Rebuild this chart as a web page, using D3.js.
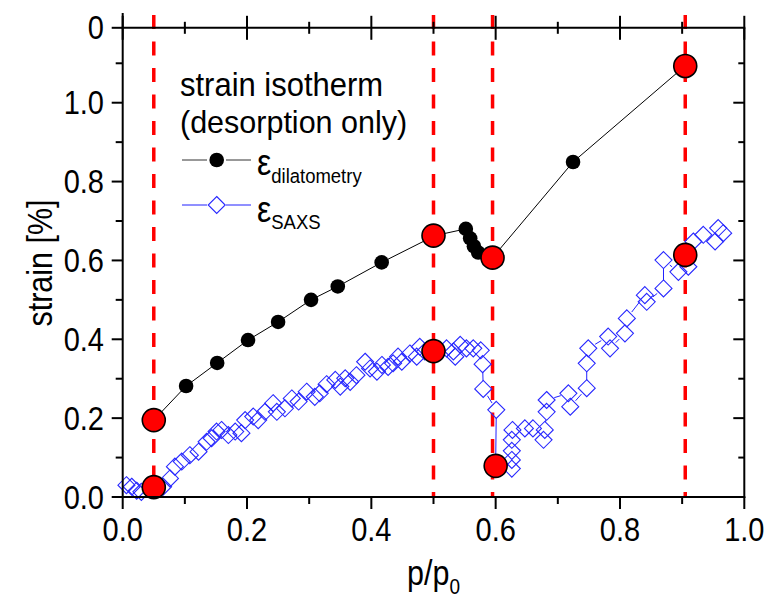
<!DOCTYPE html>
<html><head><meta charset="utf-8">
<script src="https://cdn.jsdelivr.net/npm/d3@7"></script>
<style>
html,body{margin:0;padding:0;background:#fff;}
svg text{font-family:"Liberation Sans",Arial,sans-serif;fill:#000;}
</style></head>
<body>
<svg id="chart" width="768" height="604"></svg>
<script>
// ---------- data ----------
const dilX = [0.05, 0.102, 0.152, 0.2016, 0.25, 0.303, 0.346, 0.4166, 0.5024, 0.552, 0.559, 0.565, 0.572, 0.595, 0.7245, 0.9046];
const dilY = [0.195, 0.2815, 0.34, 0.398, 0.444, 0.5, 0.534, 0.595, 0.663, 0.68, 0.656, 0.636, 0.62, 0.607, 0.8496, 1.093];

const saxsX = [0.006,0.0145,0.0225,0.03,0.05,0.065,0.076,0.084,0.095,0.108,0.122,0.135,0.143,0.151,0.159,0.17,0.181,0.191,0.197,0.21,0.218,0.229,0.242,0.248,0.261,0.272,0.283,0.296,0.309,0.317,0.328,0.342,0.35,0.358,0.366,0.376,0.39,0.398,0.409,0.417,0.427,0.435,0.443,0.449,0.462,0.473,0.478,0.486,0.5,0.521,0.532,0.535,0.543,0.553,0.564,0.576,0.579,0.58,0.601,0.6,0.626,0.626,0.626,0.626,0.627,0.647,0.66,0.677,0.679,0.682,0.682,0.717,0.72,0.7465,0.7465,0.749,0.781,0.784,0.808,0.811,0.84,0.843,0.87,0.87,0.894,0.9057,0.91,0.918,0.934,0.953,0.958,0.966];
const saxsY = [0.03,0.026,0.016,0.013,0.025,0.026,0.047,0.077,0.09,0.106,0.115,0.14,0.149,0.166,0.17,0.157,0.166,0.162,0.195,0.204,0.195,0.216,0.238,0.216,0.225,0.25,0.242,0.267,0.254,0.263,0.286,0.297,0.28,0.301,0.292,0.309,0.343,0.326,0.318,0.335,0.33,0.339,0.356,0.343,0.364,0.356,0.381,0.369,0.37,0.377,0.369,0.356,0.386,0.377,0.377,0.372,0.337,0.274,0.221,0.079,0.072,0.094,0.117,0.145,0.17,0.174,0.174,0.145,0.17,0.216,0.246,0.263,0.229,0.276,0.339,0.377,0.407,0.377,0.415,0.453,0.512,0.495,0.529,0.601,0.571,0.614,0.584,0.648,0.665,0.648,0.682,0.669];

const redX = [0.05, 0.05, 0.5, 0.5, 0.595, 0.6, 0.905, 0.905];
const redY = [0.195, 0.025, 0.663, 0.37, 0.607, 0.079, 1.093, 0.614];

const dashX = [0.05, 0.5, 0.595, 0.905];

const xTicks = [0, 0.2, 0.4, 0.6, 0.8, 1.0];
const xTickLabels = ["0.0", "0.2", "0.4", "0.6", "0.8", "1.0"];
const xMinor = [0.1, 0.3, 0.5, 0.7, 0.9];
const yTicks = [0, 0.2, 0.4, 0.6, 0.8, 1.0, 1.19];
const yTickLabels = ["0.0", "0.2", "0.4", "0.6", "0.8", "1.0", "0"];
const yMinor = [0.1, 0.3, 0.5, 0.7, 0.9, 1.1];

// ---------- layout ----------
const svg = d3.select("#chart");
const L = 122.7, R = 744.3, B = 497, T = 27.8;
const x = d3.scaleLinear().domain([0, 1]).range([L, R]);
const y = d3.scaleLinear().domain([0, 1.19]).range([B, T]);

const SY = 1.13;      // vertical stretch of the text as in the reference
const TICKF = 29;
const LABF = 30.5;

// red dashed lines
svg.append("g").selectAll("line").data(dashX).join("line")
  .attr("x1", d => x(d)).attr("x2", d => x(d))
  .attr("y1", 15).attr("y2", B)
  .attr("stroke", "#ff0000").attr("stroke-width", 3.5)
  .attr("stroke-dasharray", "14,12.5");

// SAXS line with gaps at symbols
const saxsPts = saxsX.map((v, i) => [x(v), y(saxsY[i])]);
const gap = 8;
const segs = [];
for (let i = 0; i < saxsPts.length - 1; i++) {
  const [x1, y1] = saxsPts[i], [x2, y2] = saxsPts[i + 1];
  const dx = x2 - x1, dy = y2 - y1, len = Math.hypot(dx, dy);
  if (len > 2 * gap + 1) {
    const ux = dx / len, uy = dy / len;
    segs.push([x1 + ux * gap, y1 + uy * gap, x2 - ux * gap, y2 - uy * gap]);
  }
}
svg.append("g").selectAll("line").data(segs).join("line")
  .attr("x1", d => d[0]).attr("y1", d => d[1]).attr("x2", d => d[2]).attr("y2", d => d[3])
  .attr("stroke", "#2020ff").attr("stroke-width", 1);

const dh = 8.5;
const diamond = `M0,${-dh}L${dh},0L0,${dh}L${-dh},0Z`;
svg.append("g").selectAll("path").data(saxsPts).join("path")
  .attr("d", diamond)
  .attr("transform", d => `translate(${d[0]},${d[1]})`)
  .attr("fill", "none").attr("stroke", "#2828ff").attr("stroke-width", 1.1);

// dilatometry line + dots
const dilPts = dilX.map((v, i) => [v, dilY[i]]);
svg.append("path").datum(dilPts)
  .attr("d", d3.line().x(d => x(d[0])).y(d => y(d[1])))
  .attr("fill", "none").attr("stroke", "#000").attr("stroke-width", 1);
svg.append("g").selectAll("circle").data(dilPts).join("circle")
  .attr("cx", d => x(d[0])).attr("cy", d => y(d[1])).attr("r", 7.3)
  .attr("fill", "#000");

// red circles
svg.append("g").selectAll("circle").data(redX.map((v, i) => [v, redY[i]])).join("circle")
  .attr("cx", d => x(d[0])).attr("cy", d => y(d[1])).attr("r", 11.5)
  .attr("fill", "#ff0000").attr("stroke", "#000").attr("stroke-width", 1.6);

// ---------- axes ----------
const ax = svg.append("g").attr("stroke", "#000").attr("stroke-width", 2);
ax.append("line").attr("x1", L).attr("x2", L).attr("y1", 13).attr("y2", B + 1);
ax.append("line").attr("x1", R).attr("x2", R).attr("y1", T).attr("y2", B + 1);
ax.append("line").attr("x1", L - 1).attr("x2", R + 1).attr("y1", B).attr("y2", B);
ax.append("line").attr("x1", L - 1).attr("x2", R + 1).attr("y1", T).attr("y2", T);

ax.selectAll(".bmaj").data(xTicks).join("line").attr("class", "bmaj")
  .attr("x1", d => x(d)).attr("x2", d => x(d)).attr("y1", B).attr("y2", B + 12);
ax.selectAll(".bmin").data(xMinor).join("line").attr("class", "bmin")
  .attr("x1", d => x(d)).attr("x2", d => x(d)).attr("y1", B).attr("y2", B + 7);
ax.selectAll(".tmaj").data(xTicks).join("line").attr("class", "tmaj")
  .attr("x1", d => x(d)).attr("x2", d => x(d)).attr("y1", T - 12).attr("y2", T + 12);
ax.selectAll(".tmin").data(xMinor).join("line").attr("class", "tmin")
  .attr("x1", d => x(d)).attr("x2", d => x(d)).attr("y1", T - 6).attr("y2", T + 6);
ax.selectAll(".lmaj").data(yTicks).join("line").attr("class", "lmaj")
  .attr("x1", L - 11).attr("x2", L).attr("y1", d => y(d)).attr("y2", d => y(d));
ax.selectAll(".lmin").data(yMinor).join("line").attr("class", "lmin")
  .attr("x1", L - 7).attr("x2", L).attr("y1", d => y(d)).attr("y2", d => y(d));
ax.selectAll(".rmaj").data(yTicks.slice(0, 6)).join("line").attr("class", "rmaj")
  .attr("x1", R - 11).attr("x2", R).attr("y1", d => y(d)).attr("y2", d => y(d));
ax.selectAll(".rmin").data(yMinor).join("line").attr("class", "rmin")
  .attr("x1", R - 6).attr("x2", R).attr("y1", d => y(d)).attr("y2", d => y(d));

// tick labels (stretched vertically)
svg.append("g").selectAll("text").data(xTicks).join("text")
  .attr("transform", d => `translate(${x(d)},541) scale(1,${SY})`)
  .attr("text-anchor", "middle").attr("font-size", TICKF)
  .text((d, i) => xTickLabels[i]);
svg.append("g").selectAll("text").data(yTicks).join("text")
  .attr("transform", d => `translate(104,${y(d) + 11.5}) scale(1,${SY})`)
  .attr("text-anchor", "end").attr("font-size", TICKF)
  .text((d, i) => yTickLabels[i]);

// axis titles
const xt = svg.append("text").attr("transform", `translate(407,585) scale(1,${SY})`).attr("font-size", LABF);
xt.append("tspan").text("p/p");
xt.append("tspan").attr("font-size", 19).attr("dy", 8).text("0");

svg.append("text").attr("transform", `translate(52,263) rotate(-90) scale(1,${SY})`)
  .attr("text-anchor", "middle").attr("font-size", LABF).text("strain [%]");

// legend
svg.append("text").attr("transform", `translate(180,96) scale(1,1.05)`).attr("font-size", 31).text("strain isotherm");
svg.append("text").attr("transform", `translate(180,133) scale(1,1.05)`).attr("font-size", 30.5).text("(desorption only)");

const lg = svg.append("g");
lg.append("line").attr("x1", 182).attr("x2", 207).attr("y1", 160).attr("y2", 160).attr("stroke", "#333").attr("stroke-width", 1);
lg.append("line").attr("x1", 226).attr("x2", 251).attr("y1", 160).attr("y2", 160).attr("stroke", "#333").attr("stroke-width", 1);
lg.append("circle").attr("cx", 216.7).attr("cy", 160).attr("r", 7.3).attr("fill", "#000");
const t1 = lg.append("text").attr("transform", `translate(257,175) scale(1,${SY})`).attr("font-size", 32);
t1.append("tspan").text("ε");
t1.append("tspan").attr("font-size", 18.5).attr("dy", 7).text("dilatometry");

lg.append("line").attr("x1", 182).attr("x2", 207).attr("y1", 205).attr("y2", 205).attr("stroke", "#2020ff").attr("stroke-width", 1);
lg.append("line").attr("x1", 226).attr("x2", 251).attr("y1", 205).attr("y2", 205).attr("stroke", "#2020ff").attr("stroke-width", 1);
lg.append("path").attr("d", diamond).attr("transform", "translate(216.7,205)")
  .attr("fill", "#fff").attr("stroke", "#2828ff").attr("stroke-width", 1.1);
const t2 = lg.append("text").attr("transform", `translate(257,222) scale(1,${SY})`).attr("font-size", 32);
t2.append("tspan").text("ε");
t2.append("tspan").attr("font-size", 18.5).attr("dy", 6).text("SAXS");
</script>
</body></html>
